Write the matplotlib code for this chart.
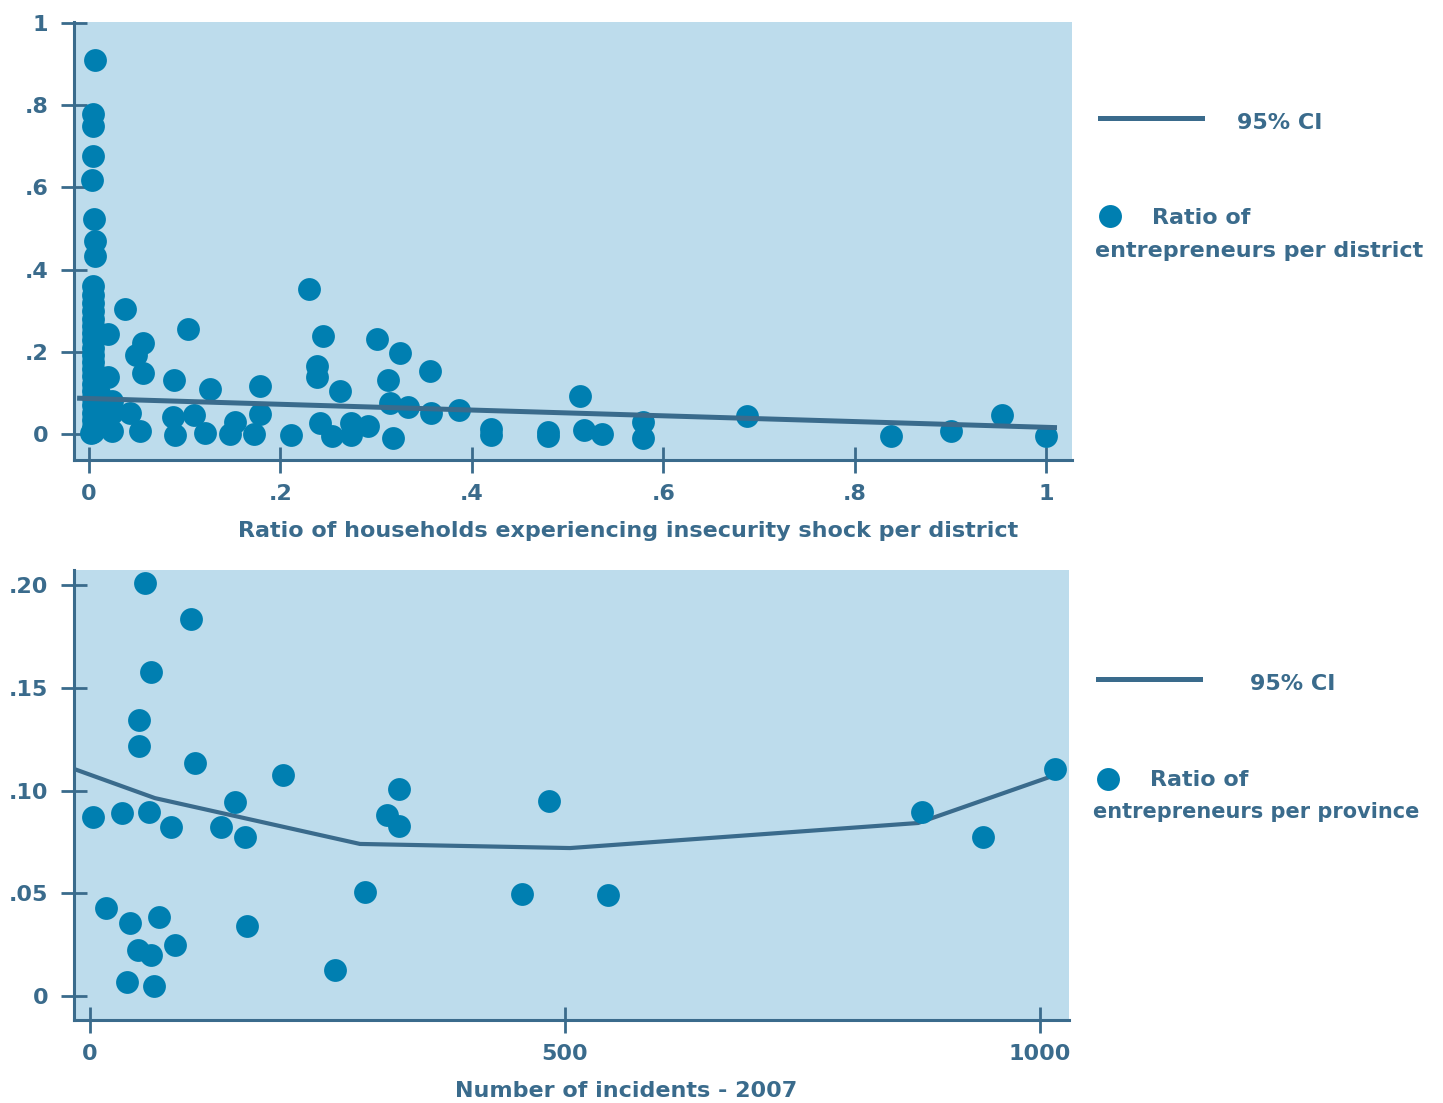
import matplotlib
matplotlib.use("Agg")
import matplotlib.pyplot as plt
from matplotlib.lines import Line2D

BG = "#bddcec"
DOT = "#007fb1"
LINE = "#3a6b8c"
TXT = "#3a6b8c"
FS = 16

plt.rcParams.update({
    "font.family": ["DejaVu Sans"],
    "font.weight": "bold",
    "font.size": FS,
})

# ---- top panel: districts ----
shock_x = [0.006, 0.004, 0.004, 0.004, 0.003, 0.005, 0.006, 0.006,
           0.004, 0.004, 0.004, 0.004, 0.004, 0.004, 0.004, 0.004, 0.004, 0.004,
           0.004, 0.004, 0.004, 0.004, 0.004, 0.004, 0.004, 0.004, 0.004, 0.004,
           0.004, 0.002, 0.010, 0.012, 0.010,
           0.020, 0.020, 0.038, 0.049, 0.056, 0.056, 0.024, 0.024, 0.024, 0.043,
           0.053, 0.103, 0.089, 0.088, 0.090, 0.110, 0.126, 0.121, 0.147, 0.153,
           0.172, 0.179, 0.179, 0.211, 0.230, 0.245, 0.238, 0.238, 0.241, 0.254,
           0.262, 0.274, 0.274, 0.292, 0.301, 0.325, 0.312, 0.314, 0.318, 0.333,
           0.356, 0.357, 0.387, 0.420, 0.420, 0.480, 0.480, 0.513, 0.517, 0.536,
           0.579, 0.579, 0.688, 0.838, 0.901, 0.954, 1.000]
district_y = [0.910, 0.779, 0.749, 0.676, 0.618, 0.522, 0.470, 0.433,
              0.360, 0.338, 0.318, 0.298, 0.280, 0.262, 0.245, 0.228, 0.210, 0.192,
              0.175, 0.158, 0.140, 0.122, 0.105, 0.088, 0.070, 0.052, 0.035, 0.018,
              0.005, 0.002, 0.060, 0.030, 0.100,
              0.242, 0.139, 0.303, 0.192, 0.222, 0.149, 0.079, 0.050, 0.006, 0.052,
              0.007, 0.255, 0.131, 0.042, -0.002, 0.046, 0.110, 0.002, 0.001, 0.030,
              0.001, 0.116, 0.049, -0.002, 0.353, 0.238, 0.165, 0.139, 0.026, -0.005,
              0.105, 0.026, -0.002, 0.019, 0.230, 0.198, 0.131, 0.076, -0.009, 0.066,
              0.152, 0.052, 0.058, 0.012, -0.002, 0.005, -0.005, 0.092, 0.010, -0.001,
              0.029, -0.009, 0.043, -0.004, 0.006, 0.046, -0.004]
fit_top_x = [-0.0125, 1.0115]
fit_top_y = [0.087, 0.0153]

# ---- bottom panel: provinces ----
incidents = [58.2, 106.6, 64.5, 51.9, 51.9, 110.8, 203.5, 3.5, 34.0, 62.4,
             85.6, 138.2, 152.9, 163.5, 17.2, 42.4, 72.9, 50.8, 64.5, 89.8,
             165.6, 39.3, 67.7, 258.2, 289.8, 325.6, 313.0, 325.6, 483.5, 455.1,
             545.6, 876.1, 940.3, 1016.1]
province_y = [0.201, 0.1835, 0.1577, 0.1343, 0.1217, 0.1134, 0.1075, 0.0871, 0.0890, 0.0895,
              0.0822, 0.0822, 0.0944, 0.0774, 0.0428, 0.0355, 0.0384, 0.0224, 0.0200, 0.0248,
              0.0341, 0.0068, 0.0049, 0.0127, 0.0506, 0.1007, 0.0881, 0.0827, 0.0949, 0.0496,
              0.0491, 0.0895, 0.0774, 0.1105]
fit_bot_x = [-16.5, 68.7, 284.5, 505.6, 872.0, 1016.1]
fit_bot_y = [0.1105, 0.0963, 0.0740, 0.0720, 0.0842, 0.1075]


def style_axes(ax):
    ax.set_facecolor(BG)
    for s in ("top", "right"):
        ax.spines[s].set_visible(False)
    for s in ("left", "bottom"):
        ax.spines[s].set_color(LINE)
        ax.spines[s].set_linewidth(2.2)
    ax.tick_params(direction="inout", length=19, width=2, color=LINE,
                   labelcolor=TXT, labelsize=16)
    ax.tick_params(axis="y", pad=9)
    ax.tick_params(axis="x", pad=8)


fig = plt.figure(figsize=(14.43, 11.03), dpi=100)

ax1 = fig.add_axes([0.0513, 0.5830, 0.6916, 0.3971])
style_axes(ax1)
ax1.scatter(shock_x, district_y, s=270, color=DOT, linewidths=0, zorder=2)
ax1.plot(fit_top_x, fit_top_y, color=LINE, lw=3.6, zorder=3, solid_capstyle="butt")
ax1.set_xlim(-0.0157, 1.0272)
ax1.set_ylim(-0.0633, 1.0024)
ax1.set_xticks([0, 0.2, 0.4, 0.6, 0.8, 1])
ax1.set_xticklabels(["0", ".2", ".4", ".6", ".8", "1"])
ax1.set_yticks([0, 0.2, 0.4, 0.6, 0.8, 1])
ax1.set_yticklabels(["0", ".2", ".4", ".6", ".8", "1"])
ax1.set_xlabel("Ratio of households experiencing insecurity shock per district",
               color=TXT, fontsize=FS, fontweight="bold")
ax1.xaxis.set_label_coords(0.555, -0.14)

ax2 = fig.add_axes([0.0513, 0.0752, 0.6895, 0.4080])
style_axes(ax2)
ax2.scatter(incidents, province_y, s=270, color=DOT, linewidths=0, zorder=2, clip_on=False)
ax2.plot(fit_bot_x, fit_bot_y, color=LINE, lw=3.0, zorder=1)
ax2.set_xlim(-16.5, 1030.8)
ax2.set_ylim(-0.0117, 0.2073)
ax2.set_xticks([0, 500, 1000])
ax2.set_xticklabels(["0", "500", "1000"])
ax2.set_yticks([0, 0.05, 0.10, 0.15, 0.20])
ax2.set_yticklabels(["0", ".05", ".10", ".15", ".20"])
ax2.set_xlabel("Number of incidents - 2007", color=TXT, fontsize=FS, fontweight="bold")
ax2.xaxis.set_label_coords(0.555, -0.135)


# ---- legends drawn at figure level ----
def legend_block(y_line, x_line, x_ci, y_ci, x_dot, y_dot, x_r, y_r, x_e, y_e, unit, fs):
    fig.add_artist(Line2D(x_line, [y_line, y_line], color=LINE, lw=3.6,
                          transform=fig.transFigure))
    fig.text(x_ci, y_ci, "95% CI", color=TXT, fontsize=FS, fontweight="bold",
             va="center", ha="left")
    fig.add_artist(Line2D([x_dot], [y_dot], marker="o", markersize=16.5, color=DOT,
                          markeredgewidth=0, transform=fig.transFigure))
    fig.text(x_r, y_r, "Ratio of", color=TXT, fontsize=FS, fontweight="bold",
             va="center", ha="left")
    fig.text(x_e, y_e, "entrepreneurs per " + unit, color=TXT, fontsize=fs,
             fontweight="bold", va="center", ha="left")


legend_block(0.8930, [0.7623, 0.8330], 0.8573, 0.8885, 0.7692, 0.8042,
             0.7983, 0.8024, 0.7588, 0.7724, "district", FS)
legend_block(0.3844, [0.7609, 0.8316], 0.8663, 0.3799, 0.7678, 0.2937,
             0.7970, 0.2928, 0.7575, 0.2638, "province", 15)

fig.savefig("out.png", dpi=100)
